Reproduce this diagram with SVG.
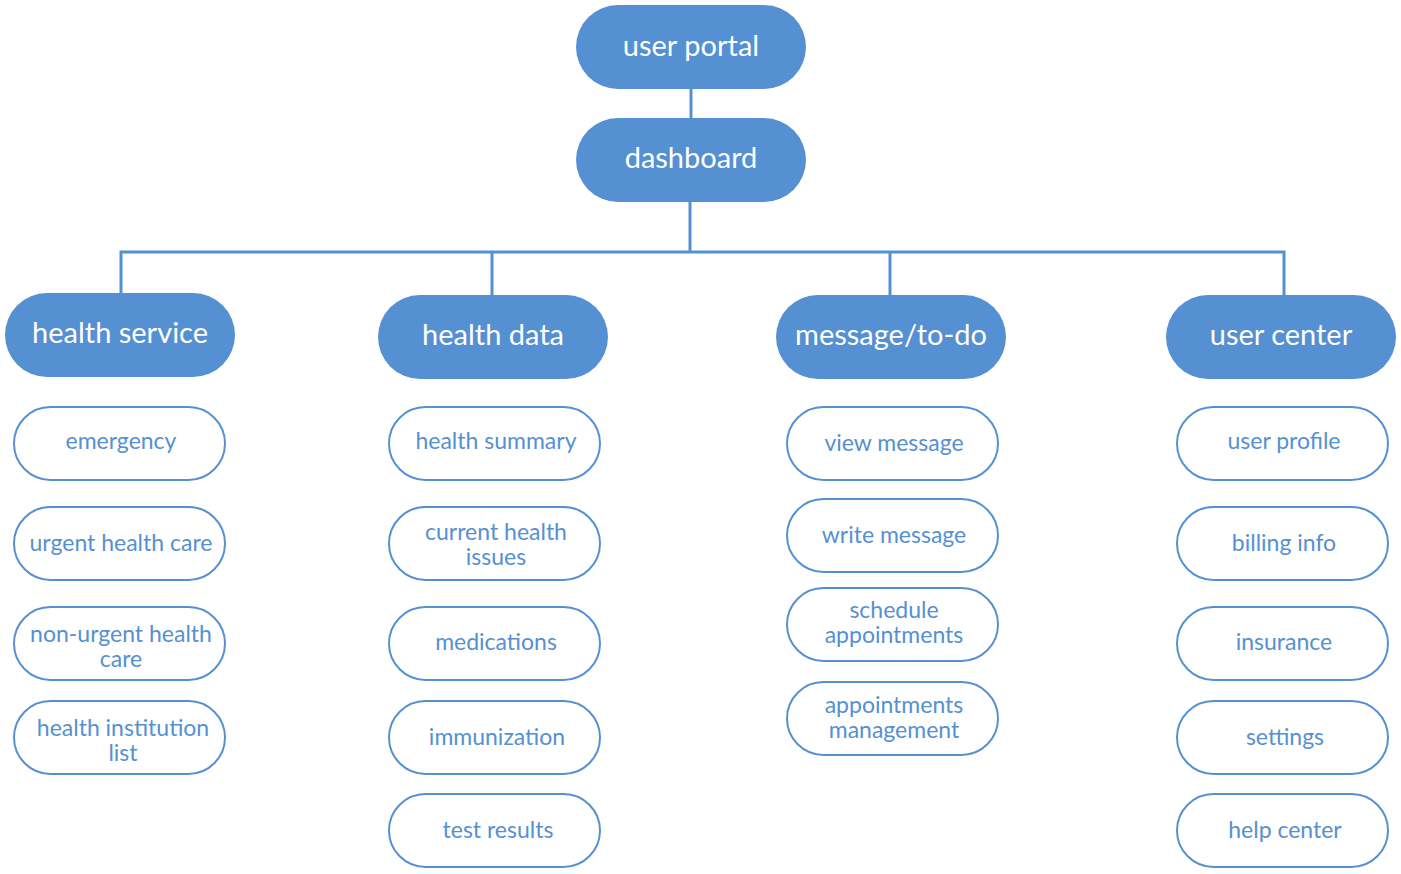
<svg xmlns="http://www.w3.org/2000/svg" width="1401" height="874" viewBox="0 0 1401 874">
<style>
.main rect{fill:#5590d3;}
.main text{fill:#ffffff;font-family:Lato,"Liberation Sans",sans-serif;font-size:29px;text-anchor:middle;}
.sub rect{fill:#ffffff;stroke:#5590d3;stroke-width:2;}
.sub text{fill:#5590d3;font-family:Lato,"Liberation Sans",sans-serif;font-size:23px;text-anchor:middle;}
.conn{fill:none;stroke:#5590d3;stroke-width:3;}
</style>
<rect width="1401" height="874" fill="#ffffff"/>
<g id="connectors" class="conn">
<path d="M691 89V118"/>
<path d="M690 202V252"/>
<path d="M121 293V252H1284V295"/>
<path d="M492 252V295"/>
<path d="M890 252V295"/>
</g>
<g id="user-portal" class="main"><rect x="576" y="5" width="230" height="84" rx="42"/><text x="691" y="56">user portal</text></g>
<g id="dashboard" class="main"><rect x="576" y="118" width="230" height="84" rx="42"/><text x="691" y="168">dashboard</text></g>
<g id="health-service" class="main"><rect x="5" y="293" width="230" height="84" rx="42"/><text x="120" y="343">health service</text></g>
<g id="health-data" class="main"><rect x="378" y="295" width="230" height="84" rx="42"/><text x="493" y="345">health data</text></g>
<g id="message-todo" class="main"><rect x="776" y="295" width="230" height="84" rx="42"/><text x="891" y="345">message/to-do</text></g>
<g id="user-center" class="main"><rect x="1166" y="295" width="230" height="84" rx="42"/><text x="1281" y="345">user center</text></g>

<g id="emergency" class="sub"><rect x="14" y="407" width="211" height="73" rx="36.5"/><text x="121" y="449">emergency</text></g>
<g id="urgent-health-care" class="sub"><rect x="14" y="507" width="211" height="73" rx="36.5"/><text x="121" y="551">urgent health care</text></g>
<g id="non-urgent-health-care" class="sub"><rect x="14" y="607" width="211" height="73" rx="36.5"/><text x="121" y="642">non-urgent health</text><text x="121" y="667">care</text></g>
<g id="health-institution-list" class="sub"><rect x="14" y="701" width="211" height="73" rx="36.5"/><text x="123" y="736">health institution</text><text x="123" y="761">list</text></g>

<g id="health-summary" class="sub"><rect x="389" y="407" width="211" height="73" rx="36.5"/><text x="496" y="449">health summary</text></g>
<g id="current-health-issues" class="sub"><rect x="389" y="507" width="211" height="73" rx="36.5"/><text x="496" y="540">current health</text><text x="496" y="565">issues</text></g>
<g id="medications" class="sub"><rect x="389" y="607" width="211" height="73" rx="36.5"/><text x="496" y="650">medications</text></g>
<g id="immunization" class="sub"><rect x="389" y="701" width="211" height="73" rx="36.5"/><text x="497" y="745">immunization</text></g>
<g id="test-results" class="sub"><rect x="389" y="794" width="211" height="73" rx="36.5"/><text x="498" y="838">test results</text></g>

<g id="view-message" class="sub"><rect x="787" y="407" width="211" height="73" rx="36.5"/><text x="894" y="451">view message</text></g>
<g id="write-message" class="sub"><rect x="787" y="499" width="211" height="73" rx="36.5"/><text x="894" y="543">write message</text></g>
<g id="schedule-appointments" class="sub"><rect x="787" y="588" width="211" height="73" rx="36.5"/><text x="894" y="618">schedule</text><text x="894" y="643">appointments</text></g>
<g id="appointments-management" class="sub"><rect x="787" y="682" width="211" height="73" rx="36.5"/><text x="894" y="713">appointments</text><text x="894" y="738">management</text></g>

<g id="user-profile" class="sub"><rect x="1177" y="407" width="211" height="73" rx="36.5"/><text x="1284" y="449">user profile</text></g>
<g id="billing-info" class="sub"><rect x="1177" y="507" width="211" height="73" rx="36.5"/><text x="1284" y="551">billing info</text></g>
<g id="insurance" class="sub"><rect x="1177" y="607" width="211" height="73" rx="36.5"/><text x="1284" y="650">insurance</text></g>
<g id="settings" class="sub"><rect x="1177" y="701" width="211" height="73" rx="36.5"/><text x="1285" y="745">settings</text></g>
<g id="help-center" class="sub"><rect x="1177" y="794" width="211" height="73" rx="36.5"/><text x="1285" y="838">help center</text></g>
</svg>
